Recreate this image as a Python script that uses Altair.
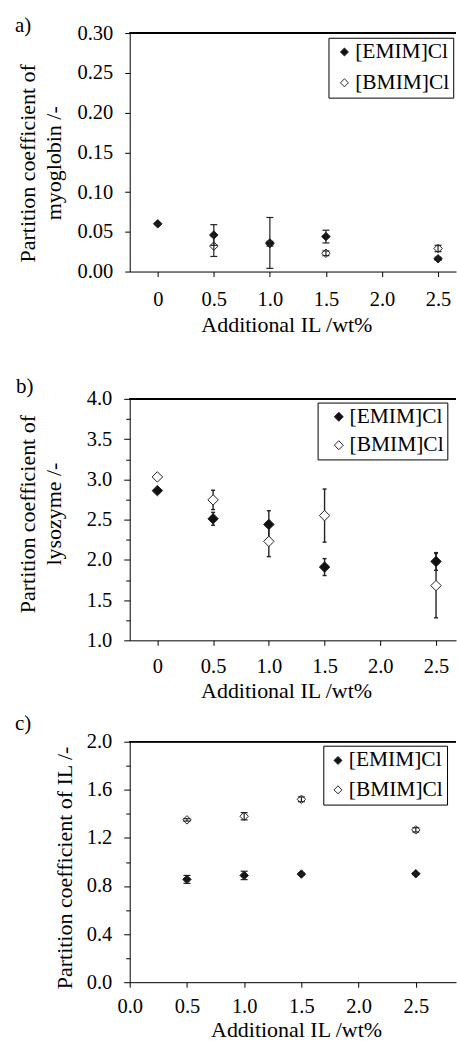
import altair as alt
import pandas as pd

FONT = "Liberation Serif"
series = ["[EMIM]Cl", "[BMIM]Cl"]
fill_colors = ["#111111", "#ffffff"]
x_title = "Additional IL /wt%"

# ---------- a) myoglobin ----------
myo_x_emim = [0, 0.5, 1.0, 1.5, 2.5]
myo_emim = [0.060, 0.046, 0.036, 0.044, 0.016]
myo_emim_err = [0.001, 0.013, 0.032, 0.008, 0.002]
myo_x_bmim = [0.5, 1.0, 1.5, 2.5]
myo_bmim = [0.032, 0.035, 0.023, 0.029]
myo_bmim_err = [0.013, 0.003, 0.003, 0.004]
myo_yticks = [0.0, 0.05, 0.10, 0.15, 0.20, 0.25, 0.30]

# ---------- b) lysozyme ----------
lys_x = [0, 0.5, 1.0, 1.5, 2.5]
lys_emim = [2.86, 2.51, 2.44, 1.91, 1.98]
lys_emim_err = [0.02, 0.08, 0.17, 0.105, 0.11]
lys_bmim = [3.03, 2.745, 2.23, 2.55, 1.68]
lys_bmim_err = [0.02, 0.12, 0.19, 0.33, 0.40]
lys_yticks = [1.0, 1.25, 1.5, 1.75, 2.0, 2.25, 2.5, 2.75, 3.0, 3.25, 3.5, 3.75, 4.0]

# ---------- c) IL ----------
il_x = [0.5, 1.0, 1.5, 2.5]
il_emim = [0.855, 0.888, 0.899, 0.902]
il_emim_err = [0.033, 0.035, 0.008, 0.008]
il_bmim = [1.350, 1.380, 1.521, 1.267]
il_bmim_err = [0.010, 0.030, 0.020, 0.018]
il_yticks = [0.0, 0.2, 0.4, 0.6, 0.8, 1.0, 1.2, 1.4, 1.6, 1.8, 2.0]

x_ticks = [0.0, 0.5, 1.0, 1.5, 2.0, 2.5]


def make_df(xe, ye, ee, xb, yb, eb):
    recs = []
    for x, y, e in zip(xb, yb, eb):
        recs.append({"x": x, "y": y, "lo": y - e, "hi": y + e, "s": series[1]})
    for x, y, e in zip(xe, ye, ee):
        recs.append({"x": x, "y": y, "lo": y - e, "hi": y + e, "s": series[0]})
    return pd.DataFrame(recs)


def panel(df, p):
    xs = alt.Scale(domain=p["xdom"], nice=False, zero=False)
    ys = alt.Scale(domain=p["ydom"], nice=False, zero=False)
    x_axis = alt.Axis(
        values=x_ticks, labelExpr=p["xlabel"], title=p["xtitle"],
        titleX=p["xtx"], titleY=p["xty"], titleBaseline="alphabetic",
        titleAlign="center", titleLineHeight=p["xlh"],
        labelPadding=p["xpad"], tickSize=5,
    )
    y_axis = alt.Axis(
        values=p["yticks"], labelExpr=p["ylabel"], title=p["ytitle"],
        titleX=p["ytx"], titleY=p["yty"], titleBaseline="alphabetic",
        titleAlign="center", titleLineHeight=25.5,
        labelPadding=12, tickSize=p["ytick"],
    )
    base = alt.Chart(df)
    X = alt.X("x:Q", scale=xs, axis=x_axis, title=p["xtitle"])

    def Y(field):
        return alt.Y(field, type="quantitative", scale=ys, axis=y_axis, title=p["ytitle"])

    border = base.mark_rule(color="black", strokeWidth=1).encode(
        x=alt.XDatum(p["xdom"][0], type="quantitative", scale=xs, axis=x_axis, title=p["xtitle"]),
        x2=alt.X2Datum(p["xdom"][1]),
        y=alt.YDatum(p["ydom"][1], type="quantitative", scale=ys, axis=y_axis, title=p["ytitle"]),
    )
    points = base.mark_point(
        shape="diamond", filled=True, size=p["msize"], stroke="#222222",
        strokeWidth=1, opacity=1,
    ).encode(
        x=X, y=Y("y"),
        fill=alt.Fill("s:N", scale=alt.Scale(domain=series, range=fill_colors),
                      legend=alt.Legend(**p["legend"])),
    )
    bar = base.mark_rule(color="#222222", strokeWidth=p["bw"]).encode(
        x=X, y=Y("lo"), y2="hi:Q")
    cap_lo = base.mark_tick(orient="horizontal", size=p["cap"], thickness=p["bw"],
                            color="#222222", opacity=1).encode(x=X, y=Y("lo"))
    cap_hi = base.mark_tick(orient="horizontal", size=p["cap"], thickness=p["bw"],
                            color="#222222", opacity=1).encode(x=X, y=Y("hi"))
    if p["bars_on_top"]:
        layers = [border, points, bar, cap_lo, cap_hi]
    else:
        layers = [border, bar, cap_lo, cap_hi, points]
    return alt.layer(*layers).properties(
        width=327, height=p["height"],
        title=alt.TitleParams(
            text=p["label"], anchor="start", frame="group", dx=p["tdx"], dy=p["tdy"],
            offset=0, baseline="alphabetic", font=FONT, fontSize=21,
            fontWeight="normal", color="black",
        ),
    )


def legend_params(lx, ly, pad, rowpad, soff, loff, ssize):
    return dict(
        orient="none", legendX=lx, legendY=ly, title=None,
        labelFont=FONT, labelFontSize=21.5, labelColor="black",
        symbolType="diamond", symbolSize=ssize, symbolStrokeColor="#222222",
        symbolStrokeWidth=1, padding=pad, rowPadding=rowpad,
        symbolOffset=soff, labelOffset=loff,
        strokeColor="black", fillColor="white",
    )


fmt_ab = "datum.value == 0 ? '0' : format(datum.value, '.1f')"

pa = panel(make_df(myo_x_emim, myo_emim, myo_emim_err, myo_x_bmim, myo_bmim, myo_bmim_err), dict(
    xdom=[-0.25, 2.66], ydom=[0, 0.30], xlabel=fmt_ab, xtitle=[x_title, ""],
    xtx=157, xty=60.5, xlh=28.9, xpad=13,
    yticks=myo_yticks, ylabel="format(datum.value, '.2f')",
    ytitle=["Partition coefficient of", "myoglobin /-"], ytx=-95, yty=130, ytick=5,
    msize=72, bw=1.2, cap=7, bars_on_top=True, height=239,
    label="a)", tdx=-115, tdy=29.5,
    legend=legend_params(199.2, 4.7, 3.5, 7.9, 1.75, 0, 64),
))

pb = panel(make_df(lys_x, lys_emim, lys_emim_err, lys_x, lys_bmim, lys_bmim_err), dict(
    xdom=[-0.248, 2.679], ydom=[1, 4], xlabel=fmt_ab, xtitle=x_title,
    xtx=156.7, xty=57, xlh=22, xpad=11,
    yticks=lys_yticks,
    ylabel="round(datum.value*4) % 2 == 0 ? format(datum.value, '.1f') : ''",
    ytitle=["Partition coefficient of", "lysozyme /-"], ytx=-95, yty=115,
    ytick={"condition": {"test": "round(datum.value*4) % 2 != 0", "value": 4}, "value": 6},
    msize=110, bw=1.4, cap=4, bars_on_top=False, height=242,
    label="b)", tdx=-114, tdy=25,
    legend=legend_params(188.3, 3.7, 3.5, 5.5, 7, 0, 81),
))

pc = panel(make_df(il_x, il_emim, il_emim_err, il_x, il_bmim, il_bmim_err), dict(
    xdom=[0, 2.851], ydom=[0, 2], xlabel="format(datum.value, '.1f')", xtitle=x_title,
    xtx=166.7, xty=54, xlh=22, xpad=9,
    yticks=il_yticks,
    ylabel="round(datum.value*5) % 2 == 0 ? format(datum.value, '.1f') : ''",
    ytitle="Partition coefficient of IL /-", ytx=-58.3, yty=126,
    ytick={"condition": {"test": "round(datum.value*5) % 2 != 0", "value": 4}, "value": 6},
    msize=72, bw=1.2, cap=7, bars_on_top=True, height=241,
    label="c)", tdx=-115, tdy=18.9,
    legend=legend_params(194, 4, 4, 6.5, 0, 0, 64),
))

chart = (
    alt.vconcat(pa, pb, pc, spacing=10.6)
    .resolve_scale(fill="independent")
    .properties(padding={"left": 15, "top": 13, "right": 0, "bottom": 0})
    .configure_view(stroke=None)
    .configure_axis(
        labelFont=FONT, labelFontSize=20.5, labelColor="black",
        titleFont=FONT, titleFontSize=22, titleFontWeight="normal", titleColor="black",
        domainColor="black", tickColor="black", grid=False,
        labelFlush=False, labelOverlap=False,
    )
)

chart.save("out.html", embed_options={"renderer": "svg", "actions": False})
